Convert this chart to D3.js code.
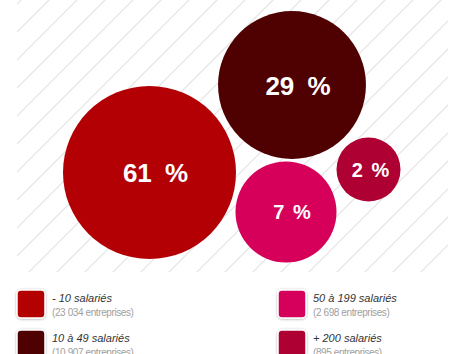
<!DOCTYPE html>
<html><head><meta charset="utf-8">
<script src="https://cdn.jsdelivr.net/npm/d3@7"></script>
<style>
html,body{margin:0;padding:0;background:#fff;}
svg{display:block;}
</style></head>
<body>
<script>
// ---- data ----
const categories = ["- 10 salariés", "10 à 49 salariés", "50 à 199 salariés", "+ 200 salariés"];
const companyCounts = [23034, 10907, 2698, 895];
const shares = [61, 29, 7, 2];
const colors = ["#b30005", "#4f0000", "#d6005b", "#ae0033"];

// ---- layout (bubble centres, hand placed) ----
const centres = [[149.5, 172.5], [292, 85], [286, 212], [368.5, 169.5]];

const W = 454, H = 354;
const fr = d3.formatLocale({decimal: ",", thousands: "\u00a0", grouping: [3], currency: ["", "€"]});
const fmt = fr.format(",d");

const svg = d3.select("body").append("svg").attr("width", W).attr("height", H);
const defs = svg.append("defs");

// hatch pattern
const pat = defs.append("pattern").attr("id", "hatch")
  .attr("patternUnits", "userSpaceOnUse").attr("width", 28).attr("height", 28)
  .attr("patternTransform", "translate(21,0)");
pat.append("path").attr("d", "M-7,7 L7,-7 M0,28 L28,0 M21,35 L35,21")
  .attr("stroke", "#e6e6e6").attr("stroke-width", 1.3).attr("fill", "none");

const shadow = defs.append("filter").attr("id", "sh").attr("x", "-30%").attr("y", "-30%").attr("width", "160%").attr("height", "160%");
shadow.append("feDropShadow").attr("dx", 0).attr("dy", 0.5).attr("stdDeviation", 1)
  .attr("flood-color", "#000").attr("flood-opacity", 0.35);

svg.append("rect").attr("x", 17).attr("y", -5).attr("width", 431).attr("height", 277)
  .attr("fill", "url(#hatch)");

const r = d3.scaleLog().domain(d3.extent(companyCounts)).range([32, 86.5]);

const g = svg.append("g");
const bub = g.selectAll("g.b").data(shares).join("g").attr("class", "b")
  .attr("transform", (d, i) => `translate(${centres[i][0]},${centres[i][1]})`);
bub.append("circle").attr("r", (d, i) => r(companyCounts[i])).attr("fill", (d, i) => colors[i]);
bub.append("text")
  .attr("x", d => d >= 7 ? 6 : 2)
  .attr("dy", d => d >= 29 ? 9.5 : 7)
  .attr("text-anchor", "middle")
  .attr("fill", "#fff")
  .attr("font-family", "'Liberation Sans', Arial, Helvetica, sans-serif")
  .attr("font-weight", "bold")
  .attr("font-size", d => d >= 29 ? 26 : 20)
  .attr("word-spacing", d => d >= 29 ? 6 : 3)
  .text(d => d + " %");

// legend
const legX = d3.scaleOrdinal().domain([0, 1]).range([17, 278]);
const leg = svg.selectAll("g.l").data(categories).join("g").attr("class", "l")
  .attr("transform", (d, i) => `translate(${legX(Math.floor(i / 2))},${290 + (i % 2) * 40})`);
leg.append("rect").attr("width", 28).attr("height", 28).attr("rx", 4)
  .attr("fill", (d, i) => colors[i]).attr("stroke", "#fff").attr("stroke-width", 1.5)
  .attr("filter", "url(#sh)");
leg.append("text").attr("x", 35).attr("y", 12)
  .attr("font-family", "'Liberation Sans', Arial, Helvetica, sans-serif")
  .attr("font-style", "italic").attr("font-size", 11).attr("fill", "#333")
  .text(d => d);
leg.append("text").attr("x", 35).attr("y", 26)
  .attr("font-family", "'Liberation Sans', Arial, sans-serif")
  .attr("font-size", 10).attr("letter-spacing", -0.4).attr("fill", "#a0a0a0")
  .text((d, i) => "(" + fmt(companyCounts[i]) + " entreprises)");
</script>
</body></html>
